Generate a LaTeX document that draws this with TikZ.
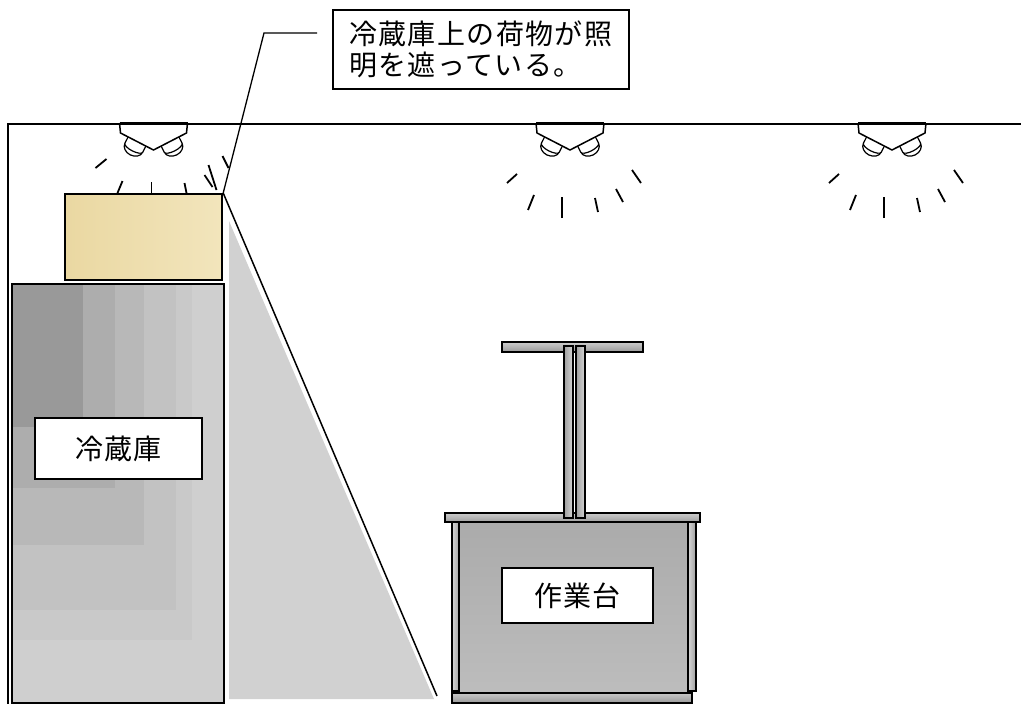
\documentclass[tikz,border=0pt]{standalone}
\usepackage{fontspec}
\newfontfamily\jp[LetterSpace=5]{Noto Sans CJK JP}
\definecolor{cargotan}{RGB}{234,216,162}
\definecolor{cargolight}{RGB}{242,229,188}
\tikzset{
  wall/.style={line width=1.8},
  ray/.style={line width=1.8},
  namebox/.style={draw, line width=1.5, fill=white, font=\jp\fontsize{28}{31}\selectfont},
  benchpart/.style={draw, line width=1.5},
  lamp/.pic={
    \foreach \s/\r in {-1/-27,1/27}
      \draw[line width=1.2, fill=white, shift={(\s*16.5,18.5)}, rotate=\r]
        (-10,-1) -- (-10,7) arc (180:0:10 and 8) -- (10,-1) (-10,7) arc (180:0:10 and 3.5);
    \draw[line width=1.5, fill=white] (-34,0) -- (-33,10) -- (0,27) -- (33,10) -- (34,0);
    \draw[line width=3] (-34,0) -- (34,0);
  }
}
\begin{document}
\begin{tikzpicture}[x=1pt,y=-1pt]
    \useasboundingbox (0,0) rectangle (1021,704);
    \draw[wall] (1021,124) -- (8,124) -- (8,704);
    \pic at (153.5,123) {lamp};
    \pic at (570,123) {lamp};
    \pic at (892,123) {lamp};
    \foreach \a/\b/\c/\d in {-58/45/-47/36, -36/70/-31/58, -2/70/-2/59, 33/70/31/60, 59/64/51/52, 63/67/55/42, 75/45/69/33}
        \draw[ray, shift={(153.5,123)}] (\a,\b) -- (\c,\d);
    \foreach \x in {570,892}
        \foreach \a/\b/\c/\d in {-63/60/-53/51, -42/87/-36/72, -8/95/-8/74, 28/89/25/75, 53/79/46/66, 71/60/62/47}
            \draw[ray, shift={(\x,123)}] (\a,\b) -- (\c,\d);
    \fill[black!18] (229,221) -- (434,699) -- (229,699) -- cycle;
    \foreach \w/\h/\g in {223/702/19, 192/640/21, 176/610/24, 144/545/28, 115/488/32, 83/427/40}
        \fill[black!\g] (11,283) rectangle (\w,\h);
    \node[draw, line width=1.8, minimum width=212, minimum height=419, anchor=north west] (fridge) at (11,283) {};
    \node[namebox, minimum width=167, minimum height=61] (fridgename) at (118.5,448.5) {冷蔵庫};
    \node[draw, line width=2.2, left color=cargotan, right color=cargolight, minimum width=157, minimum height=86, anchor=north west] (cargo) at (64,193) {};
    \node[namebox, minimum width=296, minimum height=79, anchor=north west, align=left] (note) at (332,9) {冷蔵庫上の荷物が照\\明を遮っている。};
    \coordinate (leadstart) at (317,33);
    \coordinate (shadowend) at (437,696);
    \draw[line width=1.3] (leadstart) -- (264,33) -- (cargo.north east);
    \draw[line width=1.5] (cargo.north east) -- (shadowend);
    \draw[benchpart, top color=black!20, bottom color=black!40] (502,342) rectangle (643,352);
    \draw[benchpart, top color=black!20, bottom color=black!38] (445,513) rectangle (700,522);
    \draw[benchpart, left color=black!38, right color=black!16] (564,346) rectangle (573,518);
    \draw[benchpart, left color=black!38, right color=black!16] (576,346) rectangle (585,518);
    \draw[benchpart, left color=black!16, right color=black!38] (452,522) rectangle (460,691);
    \draw[benchpart, left color=black!16, right color=black!38] (688,522) rectangle (696,691);
    \draw[benchpart, line width=2, top color=black!33, bottom color=black!26] (459,522) rectangle (688,693);
    \draw[benchpart, top color=black!22, bottom color=black!40] (452,693) rectangle (692,703);
    \node[namebox, minimum width=151, minimum height=55] (bench) at (577.5,595.5) {作業台};
\end{tikzpicture}
\end{document}
